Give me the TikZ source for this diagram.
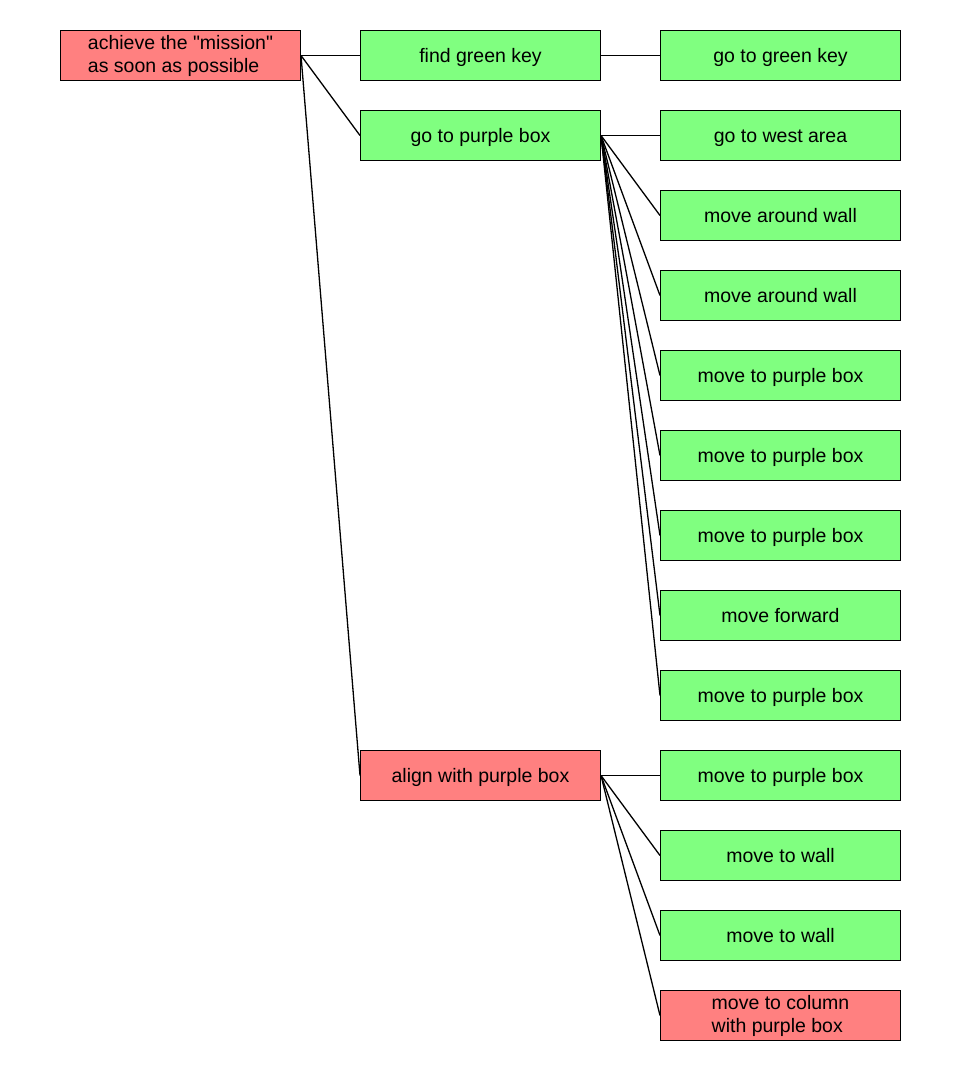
\documentclass[tikz,border=0pt]{standalone}
\usepackage{fontspec}
\setmainfont{Liberation Sans}
\definecolor{goalred}{HTML}{FF8080}
\definecolor{goalgreen}{HTML}{80FF80}
\begin{document}
\begin{tikzpicture}[x=1pt,y=-1pt,
  goal/.style={draw=black,line width=1pt,minimum width=240pt,minimum height=50pt,
    inner sep=0pt,anchor=north west,align=left,
    font=\fontsize{19.5}{23}\selectfont},
  oneline/.style={text height=14pt,text depth=0pt},
  failed/.style={goal,fill=goalred},
  done/.style={goal,fill=goalgreen,oneline},
  link/.style={line width=1.3pt}]
\useasboundingbox (0,0) rectangle (960,1070);
% root
\node[failed] (root) at (60,30) {achieve the \textquotedbl mission\textquotedbl\\as soon as possible};
% second level
\node[done] (findkey) at (360,30) {find green key};
\node[done] (gobox) at (360,110) {go to purple box};
\node[failed,oneline] (align) at (360,750) {align with purple box};
% third level
\node[done] (gokey) at (660,30) {go to green key};
\node[done] (west) at (660,110) {go to west area};
\node[done] (wall1) at (660,190) {move around wall};
\node[done] (wall2) at (660,270) {move around wall};
\node[done] (mbox1) at (660,350) {move to purple box};
\node[done] (mbox2) at (660,430) {move to purple box};
\node[done] (mbox3) at (660,510) {move to purple box};
\node[done] (fwd) at (660,590) {move forward};
\node[done] (mbox4) at (660,670) {move to purple box};
\node[done] (mbox5) at (660,750) {move to purple box};
\node[done] (towall1) at (660,830) {move to wall};
\node[done] (towall2) at (660,910) {move to wall};
\node[failed] (column) at (660,990) {move to column\\with purple box};
% connectors
\foreach \c in {findkey,gobox,align}
  \draw[link] (root.east) -- (\c.west);
\draw[link] (findkey.east) -- (gokey.west);
\foreach \c in {west,wall1,wall2,mbox1,mbox2,mbox3,fwd,mbox4}
  \draw[link] (gobox.east) -- (\c.west);
\foreach \c in {mbox5,towall1,towall2,column}
  \draw[link] (align.east) -- (\c.west);
\end{tikzpicture}
\end{document}
